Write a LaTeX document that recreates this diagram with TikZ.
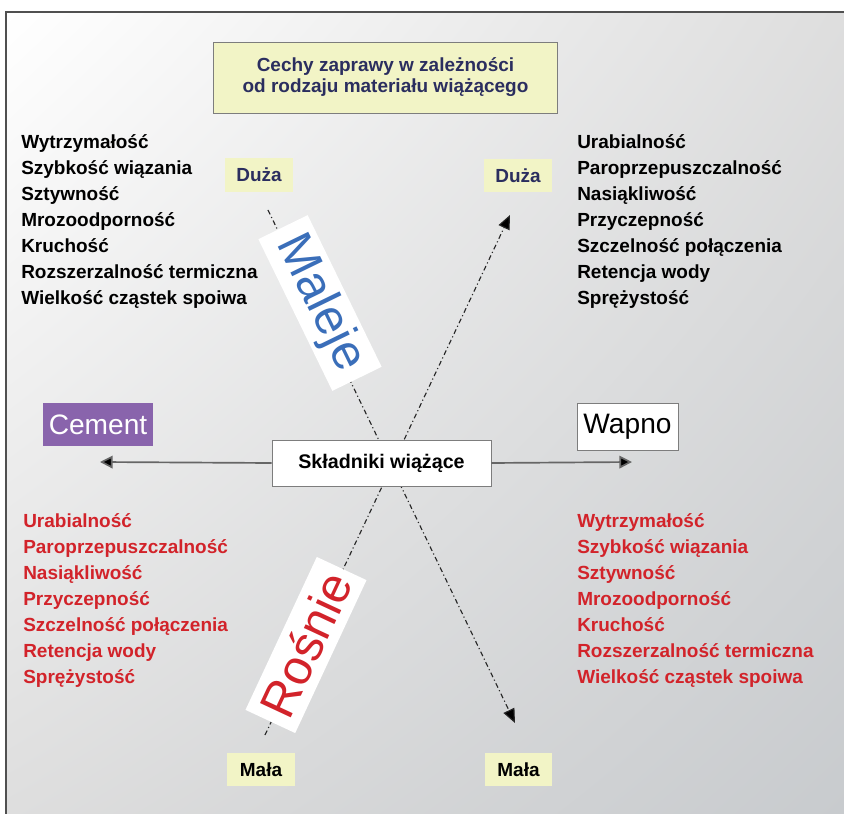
\documentclass[tikz,border=0pt]{standalone}
\usepackage{fontspec}
\setmainfont{Liberation Sans}
\usetikzlibrary{arrows.meta,shadings}

\definecolor{titlenavy}{RGB}{43,46,95}
\definecolor{listred}{RGB}{210,35,42}
\definecolor{paleyellow}{RGB}{242,244,198}
\definecolor{cementviolet}{RGB}{137,100,172}
\definecolor{malejeblue}{RGB}{58,110,185}
\definecolor{framegray}{RGB}{80,80,80}
\definecolor{edgegray}{RGB}{125,125,125}
\definecolor{bgcorner}{RGB}{200,203,206}

\tikzset{
    listtext/.style={anchor=base west,inner sep=0pt,font=\bfseries\fontsize{13.5}{16}\selectfont},
    levelbox/.style={fill=paleyellow,inner sep=0pt,minimum width=48pt,minimum height=24pt,font=\bfseries\fontsize{13.5}{16}\selectfont},
    whitebox/.style={draw=edgegray,fill=white,inner sep=0pt},
    trendbox/.style={fill=white,inner sep=0pt,minimum width=120pt,minimum height=39pt,font=\fontsize{35}{40}\selectfont},
    harrow/.style={draw=black!60,line width=1.2pt,-{Triangle[length=9pt,width=9pt,fill=black]}},
    darrow/.style={draw=black!85,line width=0.8pt,dash pattern=on 3.5pt off 2pt on 0.8pt off 2pt,-{Triangle[length=10pt,width=8.5pt,fill=black]}}
}

\begin{document}
\begin{tikzpicture}[x=0.025cm,y=-0.025cm]
                \useasboundingbox (0,0) rectangle (844,814);
                \shade[upper left=white,upper right=black!13,lower left=black!13,lower right=bgcorner] (6,12) rectangle (844,814);
                \draw[framegray,line width=1.2pt] (6,814) -- (6,12) -- (844,12);

                \node (title) at (385.5,77.5) [draw=edgegray,fill=paleyellow,minimum width=245pt,minimum height=50.5pt,align=center,text=titlenavy,font=\bfseries\fontsize{13.5}{15}\selectfont] {Cechy zaprawy w zależności\\od rodzaju materiału wiążącego};

                \foreach \t [count=\i] in {Wytrzymałość,Szybkość wiązania,Sztywność,Mrozoodporność,Kruchość,Rozszerzalność termiczna,Wielkość cząstek spoiwa}
                    \node (lt\i) at (21,149+25.9*\i-25.9) [listtext] {\t};
                \foreach \t [count=\i] in {Urabialność,Paroprzepuszczalność,Nasiąkliwość,Przyczepność,Szczelność połączenia,Retencja wody,Sprężystość}
                    \node (rt\i) at (577,149+25.9*\i-25.9) [listtext] {\t};
                \foreach \t [count=\i] in {Urabialność,Paroprzepuszczalność,Nasiąkliwość,Przyczepność,Szczelność połączenia,Retencja wody,Sprężystość}
                    \node (lb\i) at (23,527+26*\i-26) [listtext,text=listred] {\t};
                \foreach \t [count=\i] in {Wytrzymałość,Szybkość wiązania,Sztywność,Mrozoodporność,Kruchość,Rozszerzalność termiczna,Wielkość cząstek spoiwa}
                    \node (rb\i) at (577,527+26*\i-26) [listtext,text=listred] {\t};

                \node (duzaL) at (259,175) [levelbox,text=titlenavy] {Duża};
                \node (duzaR) at (518,175.5) [levelbox,text=titlenavy] {Duża};
                \node (malaL) at (261,769.5) [levelbox] {Mała};
                \node (malaR) at (518.5,769.5) [levelbox] {Mała};

                \coordinate (d1s) at (268,210);
                \coordinate (d1e) at (515,723);
                \coordinate (d2s) at (265,735);
                \coordinate (d2e) at (510,215);
                \draw[darrow] (d1s) -- (d1e);
                \draw[darrow] (d2s) -- (d2e);

                \node (maleje) at (320,303) [trendbox,rotate=-64,text=malejeblue] {Maleje};
                \node (rosnie) at (306,645) [trendbox,rotate=65,text=listred] {Rośnie};

                \node (cement) at (98,424.5) [fill=cementviolet,text=white,inner sep=0pt,minimum width=78pt,minimum height=30.5pt,font=\fontsize{20}{24}\selectfont] {Cement};
                \node (wapno) at (627.5,426.5) [whitebox,minimum width=72pt,minimum height=33.5pt,font=\fontsize{20}{24}\selectfont] {Wapno};

                \coordinate (cl) at (100,462);
                \coordinate (cr) at (632,462);
                \node (sklad) at (381.5,463) [whitebox,minimum width=156pt,minimum height=32.5pt,font=\bfseries\fontsize{14}{16}\selectfont] {Składniki wiążące};
                \draw[harrow] (sklad.west) -- (cl);
                \draw[harrow] (sklad.east) -- (cr);
            \end{tikzpicture}
\end{document}
